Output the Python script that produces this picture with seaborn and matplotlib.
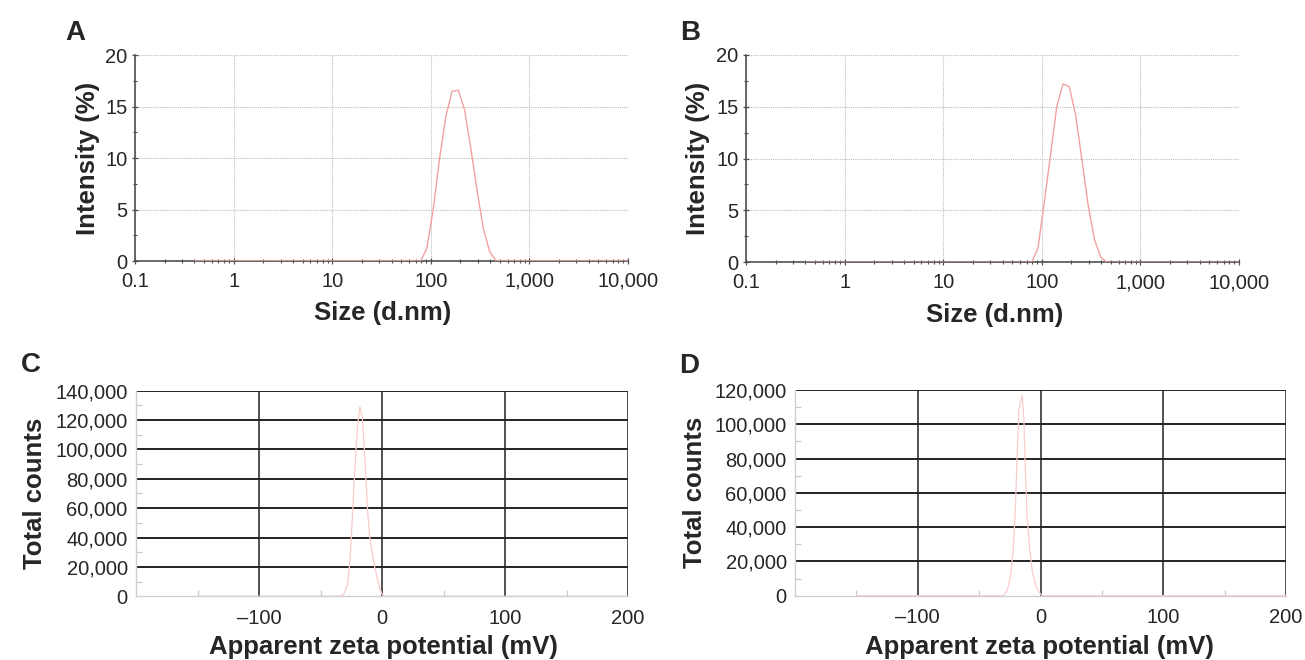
import numpy as np
import pandas as pd
import matplotlib
matplotlib.use("Agg")
import matplotlib.pyplot as plt
import matplotlib.ticker as mticker
import seaborn as sns

# ---------------- data ----------------
# Panel A / B : DLS size distribution by intensity
size_nm = [0.4, 68.06, 78.82, 91.28, 105.7, 122.4, 141.8, 164.2, 190.1, 220.2,
           255.0, 295.3, 342.0, 396.1, 458.7, 531.2, 10000]
intensity_A = [0, 0, 0, 1.25, 5.0, 9.9, 14.0, 16.5, 16.6, 14.7,
               10.9, 6.8, 3.1, 0.9, 0, 0, 0]
intensity_B = [0, 0, 0, 1.35, 5.7, 10.3, 15.0, 17.2, 16.9, 14.2,
               9.9, 5.5, 2.2, 0.5, 0, 0, 0]

# Panel C / D : zeta potential distribution
zeta_C = [-150, -34, -31, -28, -26, -24, -22, -20, -18, -16, -14, -12, -10,
          -8, -6, -4, -2, 0, 2, 200]
counts_C = [0, 0, 1500, 8000, 25000, 55000, 88000, 115000, 129000, 122000,
            95000, 62000, 40000, 30000, 20000, 13000, 6000, 1500, 0, 0]
zeta_D = [-150, -30, -27, -24.5, -22.3, -20.4, -19, -17.7, -15, -13.6, -12.2,
          -10.9, -8.7, -6.8, -4.1, -1.4, 1.4, 200]
counts_D = [0, 0, 3300, 11000, 26000, 52000, 81000, 108000, 117000, 104000,
            71000, 46000, 26500, 15000, 6200, 2300, 0, 0]

size_ticks = [0.1, 1, 10, 100, 1000, 10000]
size_tick_labels = ["0.1", "1", "10", "100", "1,000", "10,000"]
intensity_ticks = [0, 5, 10, 15, 20]
zeta_ticks = [-100, 0, 100, 200]
zeta_tick_labels = ["\u2013100", "0", "100", "200"]
counts_ticks_C = [0, 20000, 40000, 60000, 80000, 100000, 120000, 140000]
counts_ticks_D = [0, 20000, 40000, 60000, 80000, 100000, 120000]

panel_letters = ["A", "B", "C", "D"]

# ---------------- style ----------------
sns.set_theme(style="white")
plt.rcParams["font.family"] = ["Liberation Sans", "DejaVu Sans"]
plt.rcParams["axes.unicode_minus"] = True

W, H = 1305, 660
fig = plt.figure(figsize=(W / 100, H / 100), dpi=100)


def ax_px(left, right, top, bottom):
    return fig.add_axes([left / W, 1 - bottom / H, (right - left) / W, (bottom - top) / H])


axA = ax_px(135, 628, 55.3, 261)
axB = ax_px(746, 1239, 54.7, 262.3)
axC = ax_px(136, 628, 390.6, 596.3)
axD = ax_px(795, 1286, 390, 595.7)

size_color = "#f2a0a0"
zeta_color = "#f9cccc"
label_font = dict(family=["Liberation Sans", "DejaVu Sans"], weight="bold", size=18.5)
tick_fs = 14.5


def size_panel(ax, y, xlabel_x, ylabel_x):
    df = pd.DataFrame({"size": size_nm, "intensity": y})
    sns.lineplot(data=df, x="size", y="intensity", ax=ax, color=size_color,
                 linewidth=1.0, sort=False, zorder=3)
    ax.set_xscale("log")
    ax.set_xlim(0.1, 10000)
    ax.set_ylim(0, 20)
    ax.set_xticks(size_ticks)
    ax.set_xticklabels(size_tick_labels)
    ax.xaxis.set_minor_locator(mticker.LogLocator(base=10, subs=np.arange(2, 10)))
    ax.xaxis.set_minor_formatter(mticker.NullFormatter())
    ax.set_yticks(intensity_ticks)
    ax.yaxis.set_minor_locator(mticker.MultipleLocator(2.5))
    ax.grid(True, which="major", color="#bdbdbd", linestyle=(0, (1, 1)), linewidth=0.8)
    for s in ["top", "right"]:
        ax.spines[s].set_visible(False)
    for s in ["left", "bottom"]:
        ax.spines[s].set_color("#505050")
        ax.spines[s].set_linewidth(1.2)
    ax.tick_params(which="major", direction="inout", length=4.5, width=0.9,
                   color="#505050", labelsize=tick_fs, pad=3, bottom=True, left=True)
    ax.tick_params(axis="x", which="major", pad=5.5)
    ax.tick_params(which="minor", direction="inout", length=3, width=0.8,
                   color="#505050", bottom=True, left=True)
    ax.set_xlabel("Size (d.nm)", fontdict=label_font)
    ax.set_ylabel("Intensity (%)", fontdict=label_font)
    ax.xaxis.set_label_coords(xlabel_x, -0.195)
    ax.yaxis.set_label_coords(ylabel_x, 0.5)


def zeta_panel(ax, x, y, yticks, ylabel_x, xlabel_x):
    df = pd.DataFrame({"zeta": x, "counts": y})
    sns.lineplot(data=df, x="zeta", y="counts", ax=ax, color=zeta_color,
                 linewidth=0.9, sort=False, zorder=3)
    ax.set_xlim(-200, 200)
    ax.set_ylim(0, yticks[-1])
    ax.set_xticks(zeta_ticks)
    ax.set_xticklabels(zeta_tick_labels)
    ax.xaxis.set_minor_locator(mticker.FixedLocator([-150, -50, 50, 150]))
    ax.set_yticks(yticks)
    ax.yaxis.set_major_formatter(mticker.FuncFormatter(lambda v, p: f"{int(v):,}"))
    ax.yaxis.set_minor_locator(mticker.MultipleLocator(10000))
    # black grid
    for v in yticks[1:]:
        ax.axhline(v, color="#222222", linewidth=1.4, zorder=2)
    for v in zeta_ticks:
        ax.axvline(v, color="#222222", linewidth=1.1, zorder=2)
    for s in ["top", "right"]:
        ax.spines[s].set_visible(False)
    for s in ["left", "bottom"]:
        ax.spines[s].set_color("#cfcfcf")
        ax.spines[s].set_linewidth(1.0)
    ax.tick_params(which="major", length=0, labelsize=tick_fs, pad=6,
                   bottom=True, left=True)
    ax.tick_params(axis="x", which="major", pad=9)
    ax.tick_params(which="minor", direction="in", length=4, width=0.9,
                   color="#c8c8c8", bottom=True, left=True)
    ax.set_xlabel("Apparent zeta potential (mV)", fontdict=label_font)
    ax.set_ylabel("Total counts", fontdict=label_font)
    ax.xaxis.set_label_coords(xlabel_x, -0.19)
    ax.yaxis.set_label_coords(ylabel_x, 0.5)


size_panel(axA, intensity_A, 0.503, -0.071)
size_panel(axB, intensity_B, 0.505, -0.073)
zeta_panel(axC, zeta_C, counts_C, counts_ticks_C, -0.181, 0.502)
zeta_panel(axD, zeta_D, counts_D, counts_ticks_D, -0.179, 0.497)

letter_pos = [(65, 40), (680, 40), (21, 372), (679, 373)]
for letter, (lx, ly) in zip(panel_letters, letter_pos):
    fig.text(lx / W, 1 - ly / H, letter, ha="left", va="baseline",
             fontsize=20, fontweight="bold", family=["Liberation Sans", "DejaVu Sans"])

fig.savefig("out.png", dpi=100)
